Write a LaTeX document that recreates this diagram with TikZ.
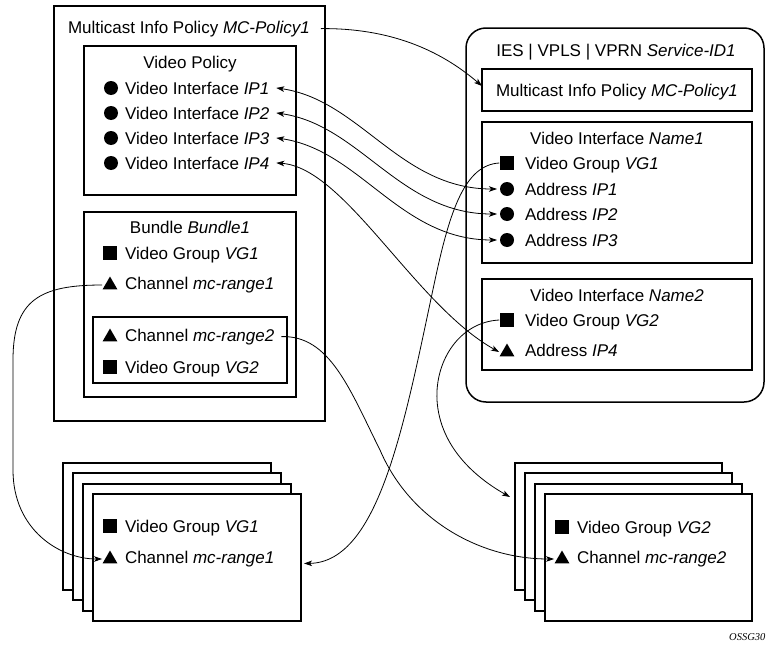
\documentclass[tikz,border=0pt]{standalone}
\usepackage{fontspec}
\setmainfont{Liberation Sans}
\newfontfamily\ossgfont{Liberation Serif}
\usetikzlibrary{arrows.meta,shapes.geometric}
\begin{document}
\begin{tikzpicture}[x=1pt,y=-1pt,
  font=\fontsize{17}{20}\selectfont,
  box/.style={draw, line width=1.5pt, inner sep=0pt, outer sep=0pt, anchor=north west, fill=white},
  lbl/.style={inner sep=0pt, outer sep=0pt, anchor=base west},
  ttl/.style={inner sep=0pt, outer sep=0pt, anchor=base},
  dotm/.style={circle, fill, inner sep=0pt, outer sep=0pt, minimum size=14pt},
  sqm/.style={rectangle, fill, inner sep=0pt, outer sep=0pt, minimum size=13.5pt},
  trim/.style={regular polygon, regular polygon sides=3, fill, inner sep=0pt, outer sep=0pt, minimum size=17pt},
  link/.style={line width=0.8pt, >={Stealth[length=8pt,width=5.5pt,inset=2pt]}},
  stk/.style={box, minimum width=208pt, minimum height=127pt},
]
\useasboundingbox (0,0) rectangle (766,645);

% ---------------- left policy box ----------------
\node[box, minimum width=271pt, minimum height=415pt] (outer) at (54,6) {};
\node[ttl] (mct) at (189,33) {Multicast Info Policy \textit{MC-Policy1}};
\node[box, minimum width=212pt, minimum height=149pt] (vp) at (84,46) {};
\node[ttl] (vpt) at (190,68) {Video Policy};
\node[dotm] (vd1) at (111,88) {};  \node[lbl] (vp1) at (125,94)  {Video Interface \textit{IP1}};
\node[dotm] (vd2) at (111,113) {}; \node[lbl] (vp2) at (125,119) {Video Interface \textit{IP2}};
\node[dotm] (vd3) at (111,138) {}; \node[lbl] (vp3) at (125,144) {Video Interface \textit{IP3}};
\node[dotm] (vd4) at (111,163) {}; \node[lbl] (vp4) at (125,169) {Video Interface \textit{IP4}};

\node[box, minimum width=212pt, minimum height=185pt] (bun) at (84,212) {};
\node[ttl] (bunt) at (190,233) {Bundle \textit{Bundle1}};
\node[sqm] (bs1) at (110,253) {}; \node[lbl] (bg1) at (125,259) {Video Group \textit{VG1}};
\node[trim] (bt1) at (110,285) {}; \node[lbl] (bc1) at (125,289) {Channel \textit{mc-range1}};
\node[box, minimum width=194pt, minimum height=66pt] (inr) at (93,317) {};
\node[trim] (bt2) at (110,337) {}; \node[lbl] (bc2) at (125,341) {Channel \textit{mc-range2}};
\node[sqm] (bs2) at (110,367) {}; \node[lbl] (bg2) at (125,373) {Video Group \textit{VG2}};

% ---------------- right service box ----------------
\node[box, rounded corners=20pt, minimum width=298pt, minimum height=374pt] (svc) at (466,28) {};
\node[ttl] (svct) at (616,56) {IES | VPLS | VPRN \textit{Service-ID1}};
\node[box, minimum width=270pt, minimum height=42pt] (mcr) at (482,69) {};
\node[ttl] (mcrt) at (617,96) {Multicast Info Policy \textit{MC-Policy1}};

\node[box, minimum width=270pt, minimum height=141pt] (n1) at (482,122) {};
\node[ttl] (n1t) at (617,144) {Video Interface \textit{Name1}};
\node[sqm] (rs1q) at (507,163) {}; \node[lbl] (rg1) at (525,169) {Video Group \textit{VG1}};
\node[dotm] (ad1) at (507,189) {}; \node[lbl] (ra1) at (525,195) {Address \textit{IP1}};
\node[dotm] (ad2) at (507,214) {}; \node[lbl] (ra2) at (525,220) {Address \textit{IP2}};
\node[dotm] (ad3) at (507,240) {}; \node[lbl] (ra3) at (525,246) {Address \textit{IP3}};

\node[box, minimum width=270pt, minimum height=91pt] (n2) at (482,279) {};
\node[ttl] (n2t) at (617,301) {Video Interface \textit{Name2}};
\node[sqm] (rs2q) at (507,320) {}; \node[lbl] (rg2) at (525,326) {Video Group \textit{VG2}};
\node[trim] (at4) at (507,352) {}; \node[lbl] (ra4) at (525,356) {Address \textit{IP4}};

% ---------------- left stack ----------------
\node[stk] (ls1) at (63,463) {};
\node[stk] (ls2) at (73,473) {};
\node[stk] (ls3) at (83,484) {};
\node[stk] (ls4) at (93,494) {};
\node[sqm] (lsq) at (110,526) {}; \node[lbl] (lsg) at (125,532) {Video Group \textit{VG1}};
\node[trim] (lst) at (110,559) {}; \node[lbl] (lsc) at (125,563) {Channel \textit{mc-range1}};

% ---------------- right stack ----------------
\node[stk, minimum width=207pt] (rk1) at (515,463) {};
\node[stk, minimum width=207pt] (rk2) at (525,473) {};
\node[stk, minimum width=207pt] (rk3) at (535,484) {};
\node[stk, minimum width=207pt] (rk4) at (545,494) {};
\node[sqm] (rsq) at (562,527) {}; \node[lbl] (rsg) at (577,533) {Video Group \textit{VG2}};
\node[trim] (rst) at (562,559) {}; \node[lbl] (rsc) at (577,563) {Channel \textit{mc-range2}};
\coordinate (rsin) at (510,497);

\node[inner sep=0pt, anchor=base west, font=\ossgfont\itshape\fontsize{10.5}{12}\selectfont] (ossg) at (729,640) {OSSG30};

% ---------------- connectors ----------------
\draw[link,->] ([xshift=11pt]mct.east) .. controls (390,28) and (440,50) .. ([yshift=4pt]mcr.west);
\draw[link,<->] ([xshift=7pt]vp1.east) .. controls (360,100) and (400,189) .. ([xshift=-3pt]ad1.west);
\draw[link,<->] ([xshift=7pt]vp2.east) .. controls (360,125) and (400,214) .. ([xshift=-3pt]ad2.west);
\draw[link,<->] ([xshift=7pt]vp3.east) .. controls (360,150) and (400,240) .. ([xshift=-3pt]ad3.west);
\draw[link,<->] ([xshift=7pt]vp4.east) .. controls (345,168) and (415,305) .. ([xshift=-3pt]at4.west);
\draw[link,->] ([xshift=-3pt]bt1.west) .. controls (40,285) and (13,300) .. (13,360) -- (13,470)
   .. controls (13,530) and (60,559) .. ([xshift=-3pt]lst.west);
\draw[link,->] ([xshift=7pt]bc2.east) .. controls (330,335) and (350,390) .. (380,450)
   .. controls (410,520) and (480,559) .. ([xshift=-3pt]rst.west);
\draw[link,->] ([xshift=-1pt]rs1q.west) .. controls (465,165) and (450,210) .. (435,280)
   .. controls (405,420) and (380,562) .. ([xshift=3pt,yshift=-6pt]ls4.east);
\draw[link,->] ([xshift=-1pt]rs2q.west) .. controls (460,322) and (435,360) .. (437,400)
   .. controls (440,450) and (480,480) .. (rsin);
\end{tikzpicture}
\end{document}
